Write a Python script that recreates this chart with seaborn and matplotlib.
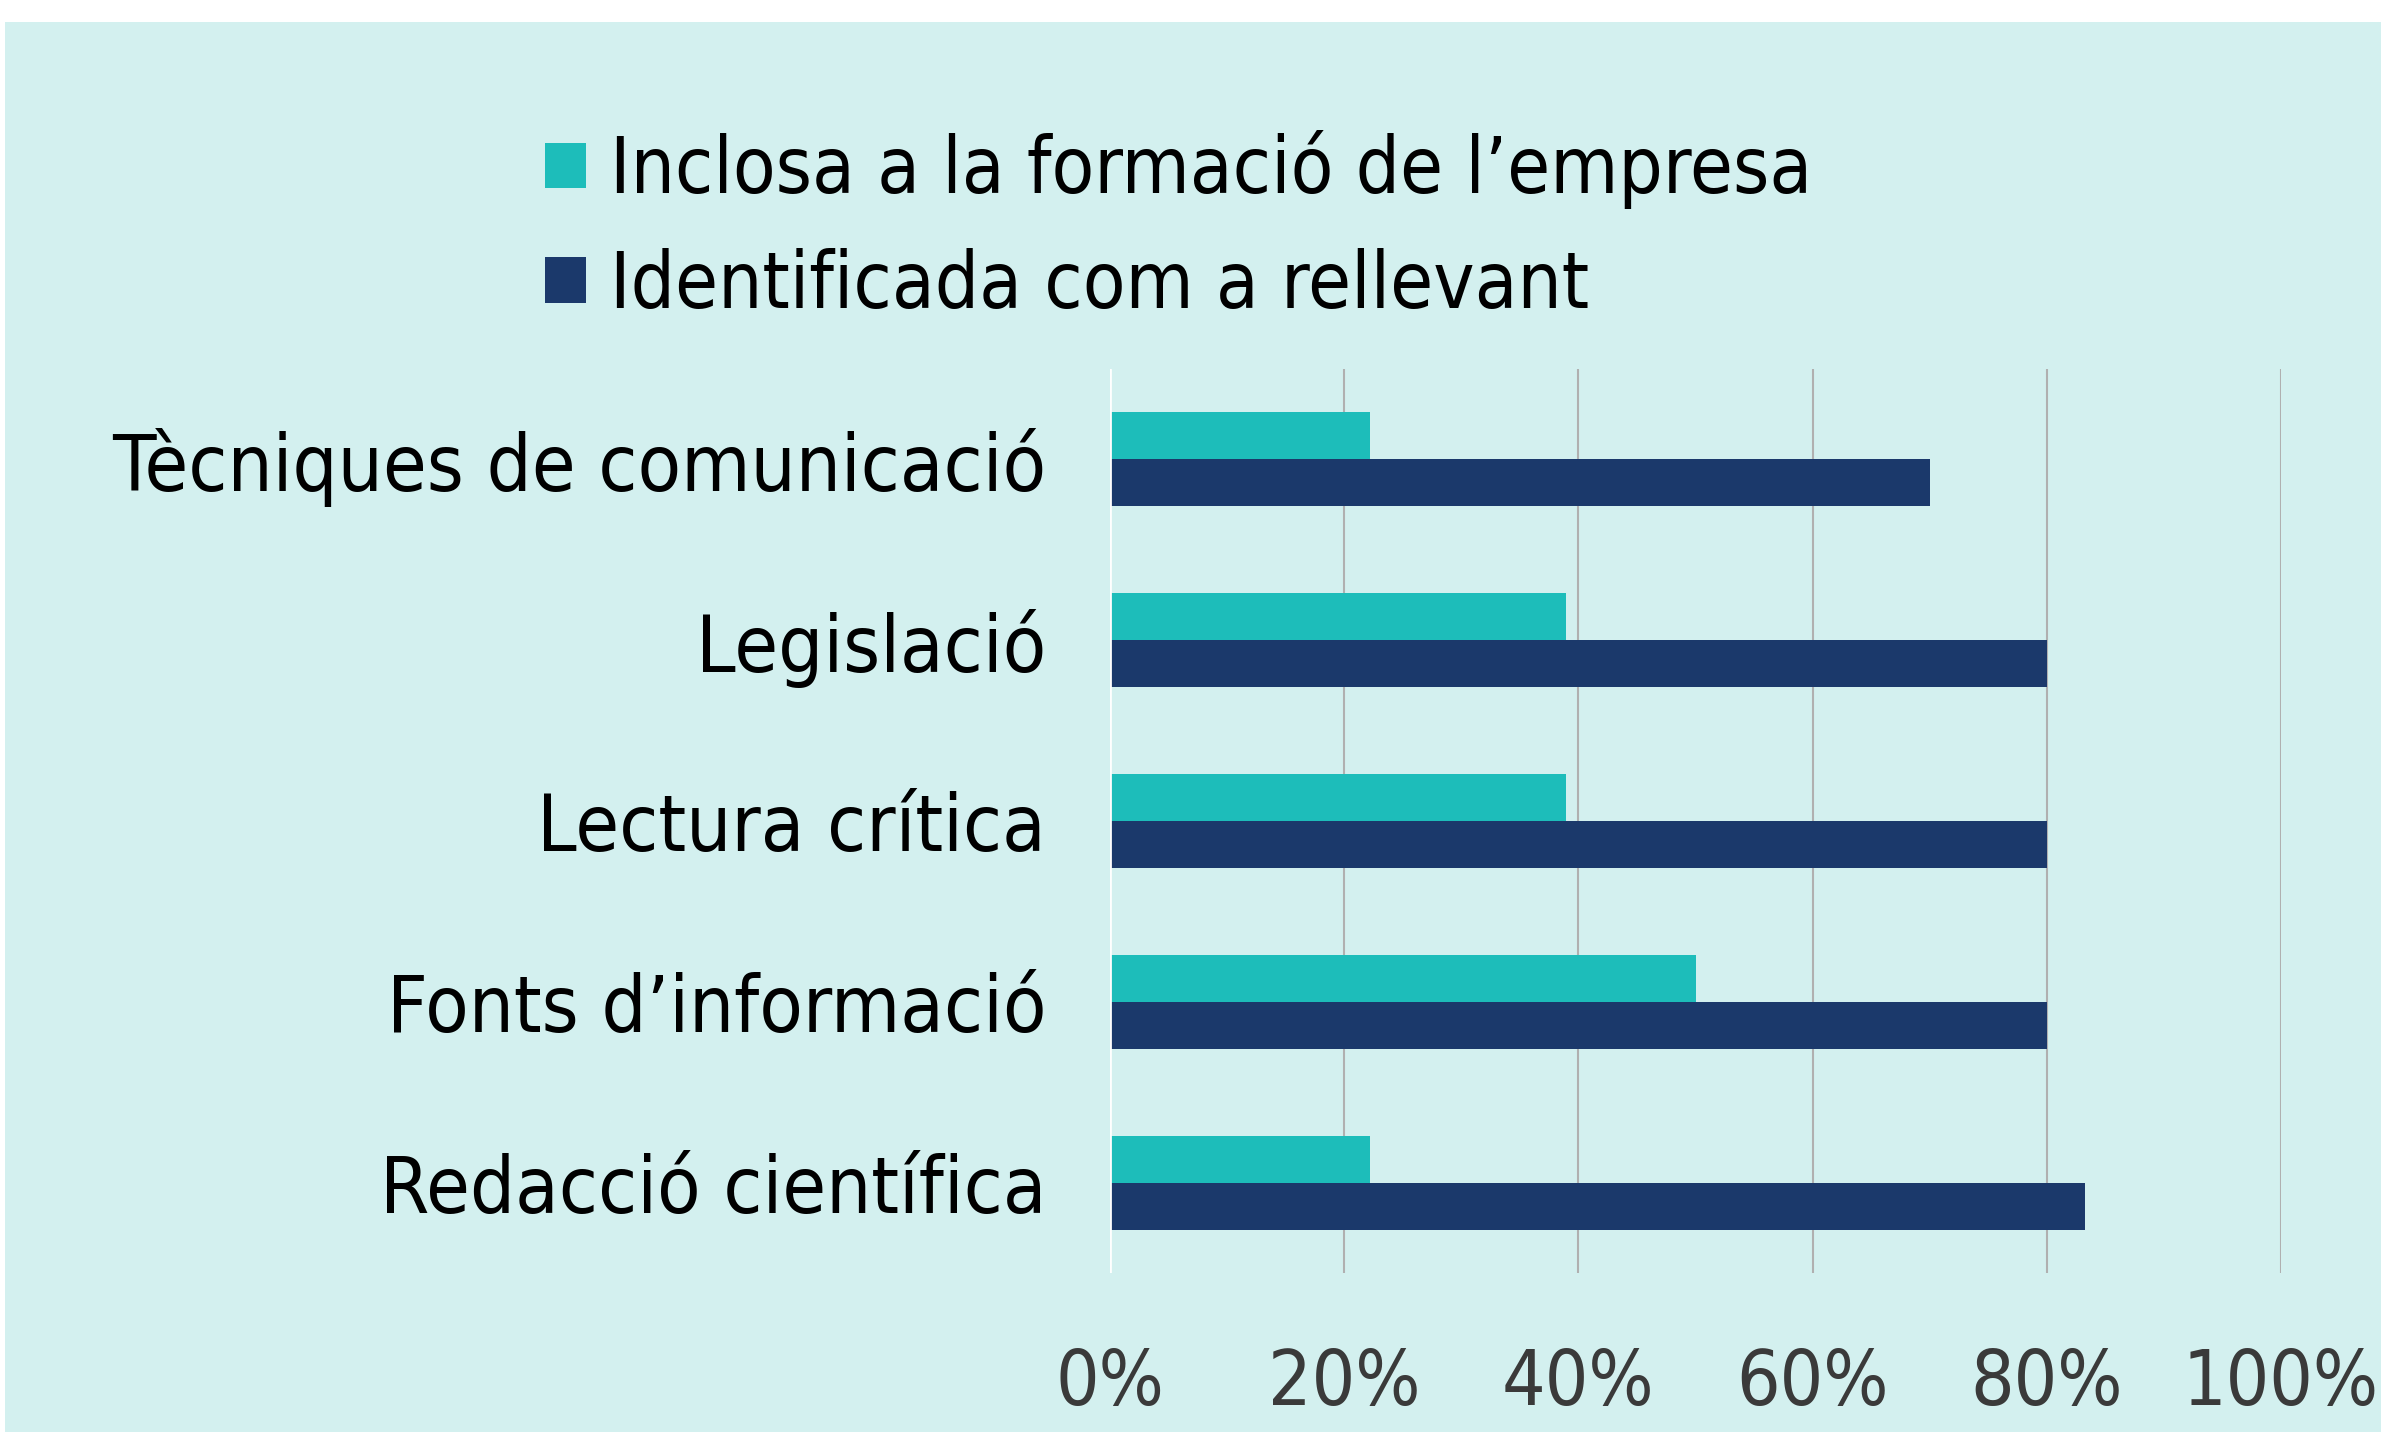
import pandas as pd
import matplotlib.pyplot as plt
from matplotlib.patches import Rectangle
import seaborn as sns

categories = ["Tècniques de comunicació", "Legislació", "Lectura crítica",
              "Fonts d’informació", "Redacció científica"]
series_names = ["Inclosa a la formació de l’empresa", "Identificada com a rellevant"]
inclosa = [22.2, 38.9, 38.9, 50.0, 22.2]
identificada = [70.0, 80.0, 80.0, 80.0, 83.3]
x_ticks = [0, 20, 40, 60, 80, 100]
x_tick_labels = ["0%", "20%", "40%", "60%", "80%", "100%"]

teal = "#1DBDBA"
navy = "#1B396B"
bg = "#D3F0EF"

df = pd.DataFrame({
    "cat": categories * 2,
    "serie": [series_names[0]] * len(categories) + [series_names[1]] * len(categories),
    "val": inclosa + identificada,
})

sns.set_style("white")
plt.rcParams["font.family"] = ["DejaVu Sans"]

fig = plt.figure(figsize=(23.81, 14.32), dpi=100, facecolor="white")
# light background panel (white strip at top and left edge)
fig.add_artist(Rectangle((5 / 2381, 0), 1, 1 - 22 / 1432, transform=fig.transFigure,
                         facecolor=bg, edgecolor="none", zorder=-10))
ax = fig.add_axes([1110 / 2381, 1 - 1273 / 1432, 1171 / 2381, 904 / 1432])
ax.set_facecolor(bg)

sns.barplot(data=df, y="cat", x="val", hue="serie", order=categories,
            hue_order=series_names, palette=[teal, navy], orient="h",
            width=0.52, gap=0, linewidth=0, ax=ax, errorbar=None, saturation=1)

ax.set_xlim(0, 100)
ax.set_ylim(4.5, -0.5)
ax.set_xticks(x_ticks)
ax.set_xticklabels(x_tick_labels, fontsize=55, color="#3A3A3A", fontstretch="condensed")
ax.set_yticks(range(len(categories)))
ax.set_yticklabels(categories, fontsize=57, color="black", fontstretch="condensed")
ax.tick_params(axis="x", length=0, pad=53)
ax.tick_params(axis="y", length=0, pad=46)
ax.set_xlabel("")
ax.set_ylabel("")
for s in ax.spines.values():
    s.set_visible(False)
ax.grid(axis="x", color="#B0B0B0", linewidth=1.5)
ax.set_axisbelow(True)
ax.axvline(0, color="white", linewidth=2, zorder=1)

sns.move_legend(ax, "upper left", bbox_to_anchor=(545 / 2381, 1 - 130 / 1432),
                bbox_transform=fig.transFigure, frameon=False, title=None,
                fontsize=56, handlelength=0.53, handleheight=0.53, handletextpad=0.3,
                labelspacing=0.5, borderpad=0, borderaxespad=0)
for t in ax.get_legend().get_texts():
    t.set_fontstretch("condensed")
    t.set_color("black")

fig.savefig("out.png", dpi=100, facecolor="white")
